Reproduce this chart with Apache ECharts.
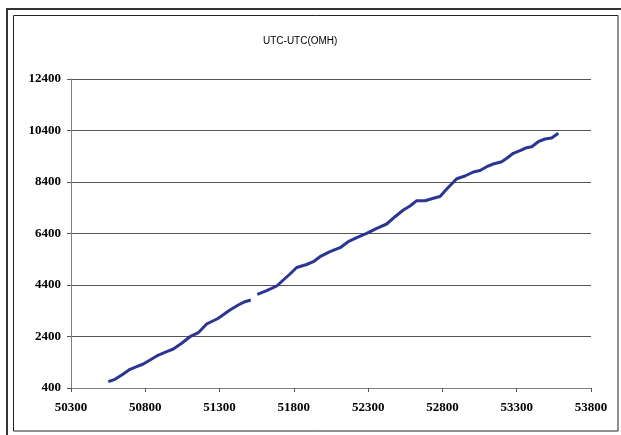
<!DOCTYPE html>
<html>
<head>
<meta charset="utf-8">
<script src="https://cdn.jsdelivr.net/npm/echarts@6/dist/echarts.min.js"></script>
<style>
  html, body { margin: 0; padding: 0; background: #fff; }
  #chart { width: 621px; height: 435px; }
</style>
</head>
<body>
<div id="chart"></div>
<script>
// MJD on x, UTC-UTC(OMH) on y; null marks the gap in the record
const mjd = [
  50551, 50596, 50652, 50697, 50742, 50787, 50832, 50877, 50944, 50989,
  51045, 51101, 51157, 51213, 51289, 51370, 51426, 51471, 51510,
  51532,
  51554, 51617, 51685, 51729, 51774, 51819, 51886, 51931, 51976, 52043,
  52111, 52166, 52223, 52290, 52358, 52425, 52481, 52537, 52582, 52627,
  52683, 52739, 52784, 52829, 52862, 52896, 52952, 53008, 53053, 53098,
  53142, 53199, 53233, 53277, 53322, 53367, 53401, 53445, 53490, 53535,
  53580
]
const offset = [
  645, 738, 944, 1126, 1227, 1332, 1487, 1643, 1810, 1915,
  2136, 2392, 2548, 2885, 3099, 3429, 3623, 3751, 3817,
  null,
  4039, 4179, 4361, 4594, 4827, 5080, 5196, 5305, 5499, 5693,
  5849, 6082, 6237, 6408, 6602, 6769, 7052, 7313, 7468, 7674,
  7674, 7767, 7837, 8128, 8322, 8528, 8633, 8788, 8847, 8994,
  9099, 9188, 9320, 9515, 9615, 9732, 9771, 9965, 10070, 10109,
  10291
]
const titleText = 'UTC-UTC(OMH)'

const points = mjd.map((x, i) => [x, offset[i] === null ? '-' : offset[i]])

const labelFont = {
  fontFamily: '"Liberation Serif", "Times New Roman", serif',
  fontWeight: 'bold',
  fontSize: 13,
  color: '#000',
  formatter: v => String(v)
}

const chart = echarts.init(document.getElementById('chart'))
chart.setOption({
  animation: false,
  backgroundColor: '#fff',
  title: {
    text: titleText,
    left: 258,
    top: 31,
    textStyle: {
      fontFamily: '"Liberation Sans", Arial, sans-serif',
      fontWeight: 'normal',
      fontSize: 10,
      color: '#000'
    }
  },
  grid: { left: 71, right: 30, top: 79, bottom: 47 },
  xAxis: {
    type: 'value',
    min: 50300,
    max: 53800,
    interval: 500,
    axisLine: { show: true, lineStyle: { color: '#808080', width: 1 } },
    axisTick: { show: true, inside: false, length: 4, lineStyle: { color: '#555' } },
    axisLabel: Object.assign({ margin: 13 }, labelFont),
    splitLine: { show: false }
  },
  yAxis: {
    type: 'value',
    min: 400,
    max: 12400,
    interval: 2000,
    axisLine: { show: true, lineStyle: { color: '#808080', width: 1 } },
    axisTick: { show: true, inside: false, length: 4, lineStyle: { color: '#555' } },
    axisLabel: Object.assign({ margin: 10 }, labelFont),
    splitLine: { show: true, lineStyle: { color: '#555', width: 1 } }
  },
  series: [{
    type: 'line',
    data: points,
    symbol: 'none',
    connectNulls: false,
    lineStyle: { color: '#2B3592', width: 3 }
  }],
  graphic: [
    {
      type: 'rect',
      shape: { x: 7, y: 9, width: 630, height: 440 },
      style: { fill: null, stroke: '#333', lineWidth: 2 },
      silent: true
    },
    {
      type: 'rect',
      shape: { x: 13.5, y: 15.5, width: 604.5, height: 415.5 },
      style: { fill: null, stroke: '#222', lineWidth: 1 },
      silent: true
    }
  ]
})
</script>
</body>
</html>
